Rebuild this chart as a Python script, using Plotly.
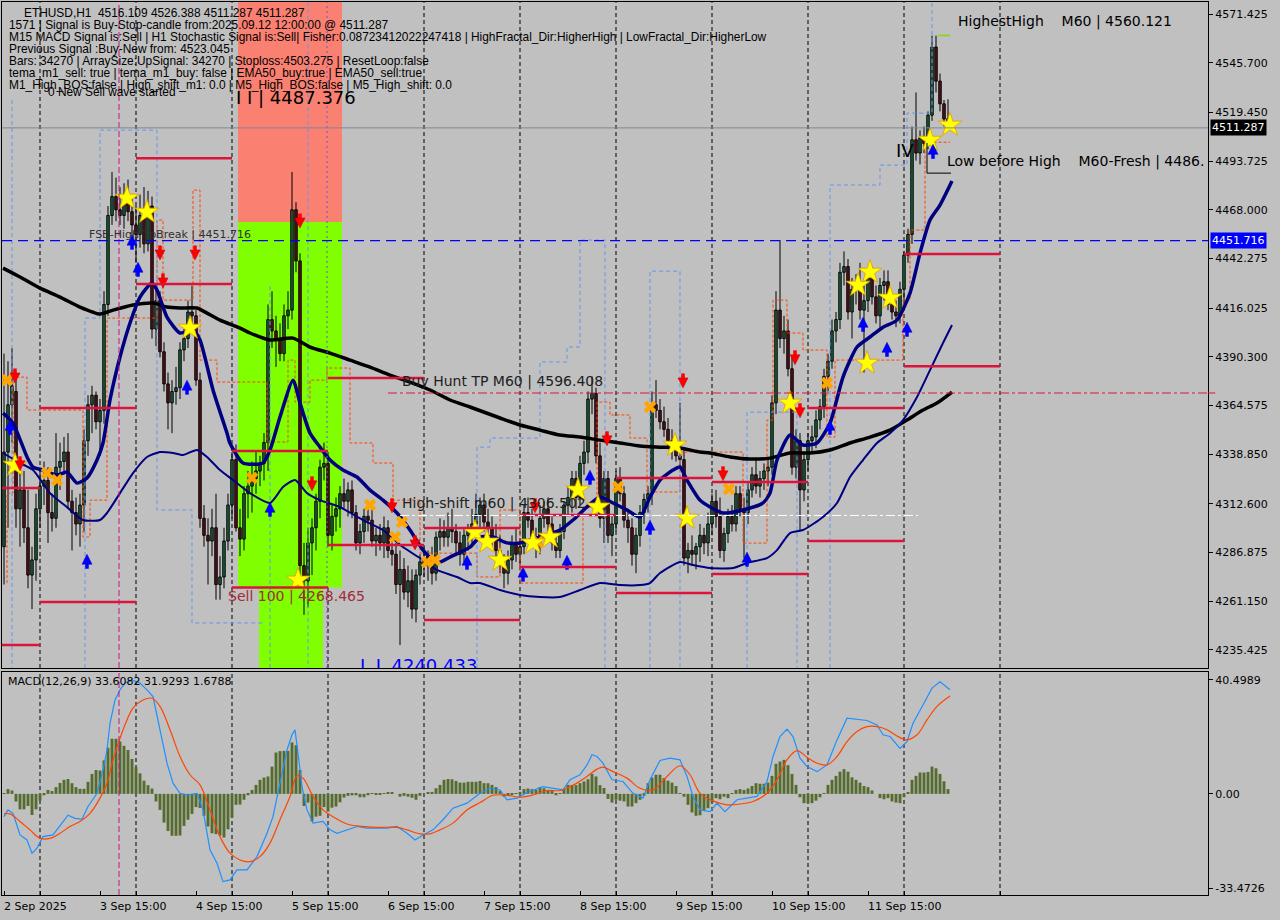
import plotly.graph_objects as go
from plotly.subplots import make_subplots

# ---------------- DATA ----------------
# hourly bars, bar 0 = 2 Sep 2025 15:00
OPEN = [4290,4340,4365,4372,4310,4320,4300,4275,4283,4310,
        4322,4325,4308,4305,4332,4335,4340,4314,4308,4302,
        4312,4346,4365,4370,4356,4362,4418,4465,4475,4468,
        4465,4472,4467,4460,4455,4465,4450,4470,4405,4420,
        4393,4376,4366,4372,4374,4394,4400,4414,4412,4378,
        4305,4296,4293,4300,4270,4274,4293,4312,4336,4300,
        4294,4318,4322,4326,4330,4334,4345,4410,4404,4400,
        4392,4412,4415,4468,4441,4280,4272,4292,4300,4314,
        4332,4334,4296,4306,4310,4318,4314,4320,4308,4292,
        4298,4306,4304,4293,4296,4292,4300,4288,4286,4270,
        4278,4266,4272,4257,4275,4282,4280,4285,4276,4295,
        4298,4295,4300,4298,4292,4286,4296,4298,4302,4307,
        4312,4303,4300,4295,4288,4280,4276,4283,4292,4286,
        4290,4308,4304,4294,4290,4305,4310,4302,4292,4288,
        4298,4312,4316,4326,4316,4334,4340,4368,4371,4338,
        4305,4326,4296,4302,4326,4318,4304,4300,4286,4296,
        4308,4315,4318,4365,4362,4356,4352,4346,4342,4338,
        4336,4284,4288,4286,4290,4296,4292,4302,4314,4306,
        4288,4297,4306,4302,4318,4310,4308,4320,4328,4322,
        4326,4330,4332,4366,4415,4400,4404,4384,4332,4346,
        4320,4336,4346,4348,4357,4364,4380,4388,4404,4410,
        4435,4438,4414,4426,4428,4415,4420,4432,4422,4412,
        4428,4430,4418,4414,4412,4426,4444,4455,4505,4498,
        4506,4503,4518,4554,4536,4524,4516.109]
HIGH = [4392,4388,4395,4380,4335,4330,4320,4290,4318,4330,
        4335,4332,4318,4350,4345,4348,4350,4320,4316,4318,
        4352,4370,4375,4372,4368,4425,4470,4488,4485,4480,
        4482,4484,4475,4470,4476,4480,4478,4475,4428,4425,
        4398,4382,4378,4385,4398,4405,4420,4428,4415,4382,
        4312,4305,4310,4318,4285,4300,4318,4340,4344,4310,
        4322,4330,4335,4340,4338,4350,4418,4425,4412,4408,
        4418,4425,4488,4472,4445,4292,4300,4305,4318,4336,
        4345,4340,4312,4316,4322,4326,4324,4325,4312,4302,
        4310,4314,4310,4300,4302,4306,4304,4295,4292,4288,
        4284,4280,4278,4278,4286,4290,4288,4290,4298,4305,
        4304,4308,4310,4302,4298,4300,4302,4310,4318,4316,
        4318,4310,4306,4302,4296,4286,4288,4296,4300,4294,
        4312,4316,4310,4300,4312,4314,4316,4306,4298,4302,
        4314,4322,4330,4330,4338,4346,4372,4380,4374,4345,
        4330,4330,4306,4330,4332,4322,4310,4305,4300,4312,
        4318,4322,4372,4378,4368,4364,4358,4352,4348,4366,
        4342,4292,4296,4292,4302,4300,4308,4318,4320,4316,
        4300,4310,4312,4322,4322,4316,4324,4332,4336,4330,
        4334,4336,4370,4425,4452,4412,4410,4390,4352,4350,
        4340,4350,4354,4362,4368,4384,4392,4410,4414,4440,
        4446,4442,4432,4434,4440,4428,4436,4438,4428,4432,
        4436,4436,4424,4420,4430,4446,4458,4512,4530,4510,
        4512,4520,4560,4560,4540,4526,4526.388]
LOW = [4270,4300,4345,4300,4290,4292,4268,4257,4272,4300,
       4312,4292,4298,4300,4320,4328,4310,4288,4296,4290,
       4298,4338,4350,4352,4338,4355,4412,4460,4462,4460,
       4458,4462,4452,4440,4448,4445,4446,4400,4396,4390,
       4372,4352,4350,4365,4368,4388,4395,4405,4375,4300,
       4290,4270,4285,4262,4262,4268,4288,4305,4298,4285,
       4288,4305,4308,4318,4322,4325,4330,4395,4385,4388,
       4388,4405,4410,4435,4275,4254,4258,4275,4288,4305,
       4325,4290,4288,4298,4300,4310,4306,4305,4288,4286,
       4292,4298,4290,4285,4288,4284,4284,4280,4265,4238,
       4262,4258,4252,4250,4270,4274,4272,4270,4272,4288,
       4290,4290,4292,4285,4280,4282,4288,4292,4296,4300,
       4298,4296,4290,4284,4276,4268,4270,4278,4282,4280,
       4286,4300,4290,4284,4286,4300,4298,4288,4284,4284,
       4294,4306,4308,4310,4312,4328,4334,4360,4334,4300,
       4292,4292,4285,4298,4314,4300,4292,4280,4276,4290,
       4302,4308,4312,4358,4352,4348,4342,4336,4335,4332,
       4280,4276,4280,4278,4282,4286,4285,4296,4300,4284,
       4282,4292,4298,4298,4306,4284,4302,4316,4318,4316,
       4320,4322,4328,4360,4395,4392,4380,4328,4326,4298,
       4314,4330,4340,4342,4352,4358,4372,4384,4398,4405,
       4428,4410,4400,4418,4410,4382,4414,4418,4408,4404,
       4420,4415,4410,4406,4408,4420,4440,4450,4494,4492,
       4498,4500,4515,4530,4520,4512,4511.287]
CLOSE = [4340,4365,4375,4310,4320,4300,4275,4283,4310,4322,
         4325,4308,4305,4332,4335,4340,4314,4308,4302,4312,
         4346,4365,4370,4356,4362,4418,4465,4475,4468,4465,
         4472,4467,4460,4455,4465,4450,4470,4405,4420,4393,
         4376,4366,4372,4374,4394,4400,4414,4412,4378,4305,
         4296,4293,4300,4270,4274,4293,4312,4336,4300,4294,
         4318,4322,4326,4330,4334,4345,4410,4404,4400,4392,
         4412,4415,4468,4441,4280,4272,4292,4300,4314,4332,
         4334,4296,4306,4310,4318,4314,4320,4308,4292,4298,
         4306,4304,4293,4296,4292,4300,4288,4286,4270,4278,
         4266,4272,4257,4275,4282,4280,4285,4276,4295,4298,
         4295,4300,4298,4292,4286,4296,4298,4302,4307,4312,
         4303,4300,4295,4288,4280,4276,4283,4292,4286,4290,
         4308,4304,4294,4290,4305,4310,4302,4292,4288,4298,
         4312,4316,4326,4316,4334,4340,4368,4371,4338,4305,
         4326,4296,4302,4326,4318,4304,4300,4286,4296,4308,
         4315,4318,4365,4362,4356,4352,4346,4342,4338,4336,
         4284,4288,4286,4290,4296,4292,4302,4314,4306,4288,
         4297,4306,4302,4318,4310,4308,4320,4328,4322,4326,
         4330,4332,4366,4415,4400,4404,4384,4332,4346,4320,
         4336,4346,4348,4357,4364,4380,4388,4404,4410,4435,
         4438,4414,4426,4428,4415,4420,4432,4422,4412,4428,
         4430,4418,4414,4412,4426,4444,4455,4505,4498,4506,
         4503,4518,4554,4536,4524,4516,4511.287]

# MACD histogram, one value per bar
MACD_HIST = [0.3,1.7,1.2,-2.7,-5.5,-5.5,-4.3,-7.5,-5.5,-2.4,
             -0.5,1.4,1.0,2.4,3.9,5.0,5.3,3.8,2.4,1.8,
             1.8,4.3,7.1,8.5,8.3,11.9,16.4,19.6,19.6,18.6,
             17.1,15.6,12.4,9.5,7.3,4.7,3.1,1.9,-2.7,-5.7,
             -10.2,-13.2,-14.9,-14.9,-14.8,-11.4,-9.2,-7.1,-4.7,-5.0,
             -7.8,-11.6,-14.0,-14.3,-14.8,-15.5,-12.6,-8.5,-3.9,-3.8,
             -2.1,-0.5,1.4,3.2,5.0,5.8,6.2,9.7,14.7,15.2,
             15.3,15.3,18.3,17.3,8.5,-4.3,-3.1,-9.8,-8.1,-7.8,
             -4.7,-6.3,-4.9,-4.5,-3.0,-1.3,-0.7,-0.5,-0.5,-1.2,
             -1.2,-0.5,0.2,-0.4,-0.2,0.2,0.5,0.5,0.0,-1.0,
             -0.7,-1.0,-1.4,-2.1,-0.7,0.0,0.6,0.7,2.0,3.2,
             5.0,5.3,5.2,4.6,4.0,4.0,4.3,4.3,4.3,4.6,
             3.8,3.8,3.2,2.4,1.0,-1.0,-0.7,-0.2,0.2,0.7,
             1.7,1.9,1.7,1.4,2.4,2.0,1.4,1.2,-0.5,0.2,
             1.7,3.2,3.2,3.1,3.8,4.4,5.2,7.1,6.2,3.1,
             2.1,-1.8,-3.1,-2.1,-2.4,-2.7,-4.5,-4.5,-3.3,-2.1,
             -0.7,3.8,5.8,6.8,6.8,5.6,4.7,4.0,2.8,0.2,
             -1.0,-3.9,-6.6,-7.8,-7.6,-5.7,-5.1,-3.1,-1.5,-1.9,
             -1.0,-1.5,0.2,1.4,1.7,1.4,1.9,2.8,3.8,3.6,
             3.6,4.0,6.4,10.7,11.5,12.1,10.2,7.1,3.2,-1.2,
             -3.3,-3.3,-3.3,-2.4,-1.2,0.2,3.2,5.0,6.4,7.9,
             8.8,7.9,5.9,5.0,4.0,2.8,2.4,1.2,0.0,-1.5,
             -1.9,-1.5,-2.7,-3.1,-3.3,-1.2,0.5,5.0,6.4,7.6,
             7.6,7.8,9.7,9.1,7.1,4.5,1.7]

# (bar position, value) samples of the MACD main line and the signal line
MACD_MAIN = [(0,-8.1),(1,-5.7),(2.25,-6.9),(4,-14.6),(5.75,-16.4),(7,-21.1),(8.25,-19.3),(9.75,-15.2),
             (12.25,-14.6),(14.75,-9.8),(16,-7.6),(17.75,-8.7),(19.5,-9.0),(21,-4.5),(23.25,0.2),(24.75,8.5),
             (25.75,15.6),(26.5,25.1),(27.75,33.4),(29,37.0),(30.25,39.4),(32,40.5),(34,39.4),(35.75,37.0),
             (37.25,34.6),(39,22.8),(40.75,10.9),(42.25,3.8),(44,0.2),(45.75,-0.4),(48.25,0.2),(49.75,-5.7),
             (51.5,-19.9),(53.25,-24.7),(54.75,-31.2),(56.5,-30.6),(58.25,-27.0),(60.75,-27.0),(63.25,-22.3),
             (65.75,-14.0),(67.25,-8.1),(69,3.8),(70.75,15.6),(72,21.0),(72.75,22.8),(73.5,14.5),(74.5,2.6),
             (75.75,-5.7),(77.25,-10.4),(79.75,-9.8),(81.5,-12.8),(83.25,-14.0),(85.75,-12.8),(88.25,-11.6),
             (90.75,-12.2),(93.25,-12.2),(95.75,-12.2),(98.25,-11.6),(100.75,-14.0),(102.75,-16.4),(104.75,-14.6),
             (107.25,-12.8),(109.75,-9.2),(112.25,-5.1),(115.75,-3.3),(119,0.2),(121.5,2.0),(124,1.4),
             (125.75,-2.1),(128.25,-1.5),(130.75,0.5),(134.75,2.6),(138.25,1.7),(139.75,1.4),(141.5,5.0),
             (144,6.8),(145.75,10.3),(147,13.9),(148.25,13.3),(149.75,10.9),(152,5.0),(154.75,4.4),(157.25,0.2),
             (159.75,-1.5),(161.5,5.0),(164,11.9),(166.5,12.7),(169,12.1),(170.75,6.2),(172.25,-0.9),(174,-5.7),
             (176.5,-6.3),(178.25,-3.3),(180.25,-6.3),(183.25,-2.1),(185.75,-1.5),(188.25,-0.9),(190.75,4.4),
             (192.25,13.3),(194,20.4),(195.75,23.0),(197.25,20.4),(199,12.7),(200.75,9.7),(203.25,7.9),
             (205.75,10.3),(208.25,19.2),(210.75,26.9),(213.25,26.6),(215.75,26.1),(218.25,24.5),(219.75,21.0),
             (221.5,20.4),(224,16.2),(225.75,18.6),(227.25,25.1),(229.75,31.6),(232,37.6),(234,39.9),(236.5,37.0)]
MACD_SIGNAL = [(0,-7.1),(1.5,-7.1),(4,-9.8),(6.5,-12.8),(9,-15.8),(11.5,-15.8),(14,-14.0),(16.5,-11.6),
               (19,-9.8),(21.5,-6.9),(24,-1.5),(25.75,3.8),(27.25,12.1),(29,19.8),(30.75,26.3),(32.25,30.5),
               (34.75,33.4),(37,34.0),(39,31.1),(41.5,22.8),(44,13.3),(46.5,6.8),(49,3.2),(51.5,-5.7),
               (54,-15.2),(56.5,-21.1),(59,-23.5),(61.5,-24.1),(64,-22.3),(66.5,-17.5),(69,-9.2),(71.5,-0.9),
               (73.25,6.4),(74.75,5.6),(77.25,-0.9),(79.75,-5.7),(82.25,-8.1),(85.75,-10.7),(88.25,-11.4),
               (93.25,-11.9),(98.25,-11.9),(100.75,-12.8),(104,-14.2),(106.5,-14.2),(109,-12.8),(112.25,-10.4),
               (115.75,-5.7),(119,-3.1),(122.25,-0.5),(125.75,-0.5),(129,-1.2),(132.25,-0.4),(135.75,1.2),
               (139,1.2),(142.25,3.1),(145.75,6.2),(148.25,8.8),(149.75,9.5),(152.25,7.9),(155.75,5.6),
               (159,2.0),(162.25,1.4),(165.75,6.2),(169,10.0),(171.5,6.8),(174,0.2),(177.25,-2.5),(180.75,-3.9),
               (184,-3.6),(187.25,-2.7),(190.75,0.2),(193.25,5.0),(195.75,12.1),(198.25,15.4),(200.75,13.0),
               (203.25,10.9),(205.75,10.3),(208.25,13.3),(210.75,18.6),(213.25,22.2),(215.75,23.9),(218.25,23.9),
               (220.75,22.8),(223.25,20.6),(225.75,19.2),(228.25,21.0),(230.75,26.3),(233.25,31.1),(236.5,34.8)]

# moving averages: (bar position, price)
MA_FAST = [(-0.25,4360.6),(2.25,4355.3),(5.75,4337.4),(7.25,4332.1),(9.75,4330.5),(13.25,4327.9),(15.75,4329.4),
           (18.25,4323.6),(20.75,4326.3),(23.25,4335.8),(24.75,4344.8),(26.5,4367.5),(29,4390.2),(31.5,4408.2),
           (34,4421.9),(37,4429.3),(38.25,4425.6),(40.75,4411.3),(44,4402.9),(47.25,4404.5),(49,4399.2),
           (52.25,4372.8),(55.75,4350.0),(56.5,4344.6),(59.75,4334.2),(64.75,4334.2),(66.5,4341.1),(69,4358.5),
           (72.25,4378.0),(74,4365.9),(76.5,4350.0),(79,4342.6),(81.5,4335.8),(84.75,4330.5),(88.25,4326.8),
           (91.5,4319.9),(94.75,4314.6),(98.25,4307.8),(101.5,4298.8),(104.75,4288.2),(108.25,4281.4),
           (111.5,4284.5),(116.5,4289.8),(119,4295.1),(122.25,4295.1),(125.75,4292.0),(129,4292.0),(134,4295.1),
           (139,4298.8),(142.25,4304.1),(145.75,4311.0),(149,4316.2),(152.25,4313.1),(155.75,4309.4),
           (159,4305.7),(161.5,4316.2),(164,4325.2),(167.25,4330.5),(169,4332.1),(170.75,4325.2),(174,4314.6),
           (176.5,4311.0),(179.75,4307.8),(184.75,4309.4),(189.75,4313.1),(191.5,4318.4),(193.25,4335.8),
           (196.5,4349.0),(199.75,4343.7),(203.25,4344.8),(206.5,4355.3),(209.75,4379.6),(213.25,4395.5),
           (216.5,4400.8),(219.75,4406.0),(223.25,4409.7),(226.5,4424.0),(229,4445.1),(231.5,4462.6),
           (234,4470.5),(237,4483.2)]
MA_MID = [(-0.25,4339.5),(4,4334.2),(7.25,4330.5),(11.5,4318.3),(15.75,4310.9),(19.75,4304.1),(24,4304.1),
          (25.75,4307.8),(29,4318.3),(32.25,4328.9),(35.75,4337.4),(39,4340.0),(42.25,4339.5),(44.75,4338.4),
          (48.25,4341.1),(50.75,4337.4),(54,4330.5),(57.25,4325.2),(61.5,4318.3),(66.5,4313.1),(69.75,4321.5),
          (72.75,4325.2),(75.75,4318.3),(79,4314.6),(84,4310.9),(89.75,4304.1),(94.75,4298.8),(99.75,4289.8),
          (104.75,4282.9),(108.25,4277.7),(113.25,4274.0),(116.5,4270.8),(119,4270.8),(124,4267.1),
          (129,4264.5),(134,4263.4),(139,4263.4),(144,4267.1),(149,4270.8),(154,4269.7),(159,4269.7),
          (161.5,4270.8),(164,4276.1),(169,4281.9),(172.25,4280.3),(176.5,4278.7),(182.25,4278.7),
          (185.75,4281.4),(190.75,4284.0),(193.25,4288.2),(196.5,4297.2),(199.75,4298.8),(204.75,4305.7),
          (208.25,4313.1),(211.5,4326.8),(214.75,4335.8),(218.25,4344.8),(221.5,4350.0),(224.75,4356.9),
          (228.25,4369.1),(231.5,4383.3),(234.75,4397.6),(237,4407.1)]
MA_SLOW = [(-0.25,4437.2),(4,4432.5),(9,4426.6),(14,4421.9),(19,4416.6),(24,4412.9),(27.25,4415.0),
           (32.25,4417.7),(37.25,4418.7),(40.75,4416.6),(44,4416.1),(48.25,4416.1),(50.75,4413.4),(54,4409.7),
           (59,4405.5),(61.5,4402.9),(66.5,4399.2),(72.25,4400.2),(76.5,4395.5),(81.5,4392.3),(86.5,4388.6),
           (91.5,4384.9),(96.5,4380.7),(101.5,4377.0),(106.5,4372.8),(111.5,4367.5),(116.5,4363.8),
           (124,4358.0),(129,4354.3),(134,4351.6),(139,4349.0),(144,4347.9),(149,4346.3),(154,4344.8),
           (159,4343.2),(164,4342.6),(169,4342.1),(174,4340.0),(176.5,4339.5),(181.5,4337.4),(186.5,4336.3),
           (191.5,4336.8),(196.5,4339.5),(201.5,4339.5),(206.5,4341.1),(211.5,4344.8),(216.5,4347.9),
           (221.5,4351.6),(225.75,4356.9),(229.75,4362.2),(233.25,4365.9),(237,4371.7)]

# orange dashed step line and cornflower dashed channel pieces
ORANGE_STEP = [(0.75,4270.8),(0.75,4318.3),(2.25,4318.3),(2.25,4379.6),(5.75,4379.6),(5.75,4362.2),
               (19.75,4362.2),(19.75,4295.1),(21.5,4295.1),(21.5,4314.6),(25.75,4314.6),(25.75,4410.8),
               (38.25,4410.8),(38.25,4462.6),(39.75,4462.6),(39.75,4420.3),(47.25,4420.3),(47.25,4478.4),
               (49,4478.4),(49,4388.6),(53.25,4388.6),(53.25,4377.0),(65.75,4377.0),(65.75,4345.3),
               (71,4345.3),(71,4388.6),(72.75,4388.6),(72.75,4366.4),(76.5,4366.4),(76.5,4378.0),
               (80.75,4378.0),(80.75,4384.4),(86.5,4384.4),(86.5,4344.8),(92.25,4344.8),(92.25,4334.2),
               (97.25,4334.2),(97.25,4314.6),(104,4314.6),(104,4286.6),(118.25,4286.6),(118.25,4274.0),
               (124,4274.0),(124,4309.4),(129,4309.4),(129,4270.8),(144.75,4270.8),(144.75,4310.9),
               (148.25,4310.9),(148.25,4366.4),(151.5,4366.4),(151.5,4359.6),(156.5,4359.6),(156.5,4347.4),
               (160.75,4347.4),(160.75,4318.9),(169,4318.9),(169,4340.0),(184.75,4340.0),(184.75,4291.9),
               (190.75,4291.9),(190.75,4356.9),(192.25,4356.9),(192.25,4420.3),(195.75,4420.3),
               (195.75,4402.9),(199.75,4402.9),(199.75,4393.9),(205.75,4393.9),(205.75,4347.9),
               (207.75,4347.9),(207.75,4388.6),(224.75,4388.6),(224.75,4420.3),(226.5,4420.3),
               (226.5,4457.3),(230.25,4457.3),(230.25,4503.7),(236.5,4503.7)]
BLUE_STEPS = [
    [(2,4526.0),(2,4225.9)],
    [(20.25,4225.9),(20.25,4410.8),(24,4410.8),(24,4510.1),(38.25,4510.1),(38.25,4309.4),(47,4309.4),
     (47,4249.7),(64.75,4249.7)],
    [(66.5,4225.9),(66.5,4429.3)],
    [(76,4577.7),(76,4225.9)],
    [(118.25,4225.9),(118.25,4342.6),(121.5,4342.6),(121.5,4347.4),(134,4347.4),(134,4387.6),
     (140.75,4387.6),(140.75,4395.5),(144,4395.5),(144,4452.0),(150.25,4452.0),(150.25,4225.9)],
    [(161.5,4225.9),(161.5,4435.6),(169,4435.6),(169,4225.9)],
    [(185.75,4225.9),(185.75,4361.1),(198.25,4361.1),(198.25,4225.9)],
    [(206.5,4225.9),(206.5,4481.1),(219,4481.1),(219,4491.6),(225.75,4491.6),(225.75,4519.1),
     (232,4519.1),(232,4577.7)],
]

# red level segments: (from bar, to bar, price)
RED_LEVELS = [(-1,9,4321.0),(-1,9,4238.1),(9,33,4363.3),(9,33,4260.8),(33,57,4495.3),(33,57,4428.8),
              (57,81,4340.5),(57,81,4268.465),(81,105,4379.1),(81,105,4290.9),(105,129,4299.9),
              (105,129,4251.3),(129,153,4306.7),(129,153,4279.3),(153,177,4326.3),(153,177,4265.5),
              (177,201,4324.2),(177,201,4275.6),(201,225,4363.3),(201,225,4293.0),(225,249,4444.6),
              (225,249,4385.4)]

# signal markers (bar position, price)
STARS = [(2.75,4333.1),(30.75,4474.2),(35.75,4466.8),(46.5,4405.5),(73.5,4272.4),(117.75,4297.7),
         (120.75,4292.5),(124,4282.9),(132.25,4292.0),(136.5,4295.1),(143.5,4320.0),(148.5,4311.0),
         (167.75,4343.7),(170.75,4305.1),(196.5,4365.9),(213.5,4428.2),(216.5,4435.1),(215.75,4387.0),
         (221.5,4421.4),(231.5,4504.8),(236.5,4512.8)]
CROSSES = [(0.75,4378.0),(10.75,4328.9),(13.25,4325.2),(62,4326.3),(91.5,4312.0),(99.5,4303.0),
           (97.75,4295.1),(105.75,4281.9),(107.75,4282.9),(133.5,4292.5),(153.5,4321.5),(161.5,4363.8),
           (181.25,4320.5),(205.75,4376.5)]
UP_ARROWS = [(1.5,4355.3),(20.75,4284.5),(32,4453.1),(33.5,4438.8),(45.75,4376.5),(66.5,4312.0),
             (115.75,4284.0),(129.75,4277.7),(140.75,4284.0),(146.5,4328.9),(161.5,4302.5),(185.75,4285.6),
             (206.5,4355.3),(214.75,4409.7),(220.75,4396.5),(225.75,4407.1),(232.25,4501.1)]
DOWN_ARROWS = [(2.75,4378.0),(4,4331.6),(39,4443.0),(39.75,4428.2),(47.75,4443.0),(74,4459.9),
               (77,4321.0),(97,4309.4),(102.75,4289.8),(132.75,4309.4),(150.75,4344.8),(169.75,4375.4),
               (179.75,4326.3),(197.75,4387.6),(199,4359.6)]

LAST_PRICE = 4511.287
FSB_LEVEL = 4451.716
HUNT_LEVEL = 4371.2
HIGH_SHIFT = 4306.502
SELL_LEVEL = 4268.465
ZONE_TOP = 4461.5
LOW_BEFORE_HIGH = 4487.376
HIGHEST_HIGH = 4560.121

PRICE_TICKS = [4571.425,4545.700,4519.450,4493.725,4468.000,4442.275,4416.025,4390.300,
               4364.575,4338.850,4312.600,4286.875,4261.150,4235.425]
MACD_TICKS = [40.4989, 0.0, -33.4726]
MACD_TICK_TEXT = ["40.4989", "0.00", "-33.4726"]
DATE_LABELS = ["2 Sep 2025","3 Sep 15:00","4 Sep 15:00","5 Sep 15:00","6 Sep 15:00","7 Sep 15:00",
               "8 Sep 15:00","9 Sep 15:00","10 Sep 15:00","11 Sep 15:00"]
DATE_LABEL_BARS = [0,24,48,72,96,120,144,168,192,216]
MIDNIGHT_BARS = [9,33,57,81,105,129,153,177,201,225,249]

INFO_LINES = [
    "ETHUSD,H1  4516.109 4526.388 4511.287 4511.287",
    "1571 | Signal is Buy-Stop-candle from:2025.09.12 12:00:00 @ 4511.287",
    "M15 MACD Signal is:Sell | H1 Stochastic Signal is:Sell| Fisher:0.08723412022247418 | HighFractal_Dir:HigherHigh | LowFractal_Dir:HigherLow",
    "Previous Signal :Buy-New from: 4523.045",
    "Bars: 34270 | ArraySize:UpSignal: 34270 | Stoploss:4503.275 | ResetLoop:false",
    "tema_m1_sell: true | tema_m1_buy: false | EMA50_buy:true | EMA50_sell:true",
    "M1_High_BOS:false | High_shift_m1: 0.0 | M5_High_BOS:false | M5_High_shift: 0.0",
]

# ---------------- FIGURE ----------------
W, H = 1280, 920
ML, MR, MT, MB = 2, 72, 2, 25
PW, PH = W - ML - MR, H - MT - MB


def pxx(x):
    return (x - ML) / PW


def pxy(y):
    return (H - MB - y) / PH


BG = "#C0C0C0"
FONT = "DejaVu Sans"
XR = [-0.5, 301.0]
YR = [4225.9, 4577.8]
MR_RANGE = [-35.96, 43.34]
STEM = 3.2  # arrow stem offset in price units (style)

fig = make_subplots(rows=2, cols=1, shared_xaxes=True)

n = len(CLOSE)
idx = list(range(n))

# wicks
wx, wy = [], []
for i in idx:
    wx += [i, i, None]
    wy += [LOW[i], HIGH[i], None]
fig.add_trace(go.Scatter(x=wx, y=wy, mode="lines", line=dict(color="black", width=1),
                         hoverinfo="skip"), row=1, col=1)

# bodies
body_base = [min(OPEN[i], CLOSE[i]) for i in idx]
body_len = [max(abs(CLOSE[i] - OPEN[i]), 0.6) for i in idx]
body_col = ["#3CC47A" if CLOSE[i] >= OPEN[i] else "#B4243C" for i in idx]
fig.add_trace(go.Bar(x=idx, y=body_len, base=body_base, width=0.62,
                     marker=dict(color=body_col, line=dict(color="black", width=1))), row=1, col=1)

# step lines
fig.add_trace(go.Scatter(x=[p[0] for p in ORANGE_STEP], y=[p[1] for p in ORANGE_STEP], mode="lines",
                         line=dict(color="#FF4500", width=1, dash="3px,2px")), row=1, col=1)
bx, by = [], []
for seg in BLUE_STEPS:
    bx += [p[0] for p in seg] + [None]
    by += [p[1] for p in seg] + [None]
fig.add_trace(go.Scatter(x=bx, y=by, mode="lines",
                         line=dict(color="#6495ED", width=1, dash="4px,3px")), row=1, col=1)

# moving averages
fig.add_trace(go.Scatter(x=[p[0] for p in MA_SLOW], y=[p[1] for p in MA_SLOW], mode="lines",
                         line=dict(color="black", width=3.5, shape="spline", smoothing=0.6)), row=1, col=1)
fig.add_trace(go.Scatter(x=[p[0] for p in MA_MID], y=[p[1] for p in MA_MID], mode="lines",
                         line=dict(color="#000080", width=2, shape="spline", smoothing=0.6)), row=1, col=1)
fig.add_trace(go.Scatter(x=[p[0] for p in MA_FAST], y=[p[1] for p in MA_FAST], mode="lines",
                         line=dict(color="#000080", width=3.5, shape="spline", smoothing=0.6)), row=1, col=1)

# markers
fig.add_trace(go.Scatter(x=[p[0] for p in CROSSES], y=[p[1] for p in CROSSES], mode="markers",
                         marker=dict(symbol="x", size=11, color="#FFA500", line=dict(width=0))), row=1, col=1)
fig.add_trace(go.Scatter(x=[p[0] for p in STARS], y=[p[1] for p in STARS], mode="markers",
                         marker=dict(symbol="star", size=18, color="#FFFF00",
                                     line=dict(color="#E0A000", width=0.8))), row=1, col=1)
# arrows: stem + head
fig.add_trace(go.Scatter(x=[p[0] for p in UP_ARROWS], y=[p[1] - STEM for p in UP_ARROWS], mode="markers",
                         marker=dict(symbol="line-ns", size=8, line=dict(color="#0000FF", width=3.5))),
              row=1, col=1)
fig.add_trace(go.Scatter(x=[p[0] for p in UP_ARROWS], y=[p[1] + 1.5 for p in UP_ARROWS], mode="markers",
                         marker=dict(symbol="arrow-up", size=10, color="#0000FF",
                                     line=dict(color="#0000C0", width=0.5))), row=1, col=1)
fig.add_trace(go.Scatter(x=[p[0] for p in DOWN_ARROWS], y=[p[1] + STEM for p in DOWN_ARROWS],
                         mode="markers",
                         marker=dict(symbol="line-ns", size=8, line=dict(color="#FF0000", width=3.5))),
              row=1, col=1)
fig.add_trace(go.Scatter(x=[p[0] for p in DOWN_ARROWS], y=[p[1] - 1.5 for p in DOWN_ARROWS],
                         mode="markers",
                         marker=dict(symbol="arrow-down", size=10, color="#FF0000",
                                     line=dict(color="#C00000", width=0.5))), row=1, col=1)

# clipped blue label at bottom of price panel (only its upper part shows)
fig.add_trace(go.Scatter(x=[89], y=[4226.3], mode="text", text=["L L 4240.433"],
                         textposition="middle right", cliponaxis=True,
                         textfont=dict(family=FONT, size=18, color="#0000FF")), row=1, col=1)

# MACD panel
fig.add_trace(go.Bar(x=idx, y=MACD_HIST, width=0.72, marker=dict(color="#556B2F", line=dict(width=0))),
              row=2, col=1)
fig.add_trace(go.Scatter(x=[p[0] for p in MACD_MAIN], y=[p[1] for p in MACD_MAIN], mode="lines",
                         line=dict(color="#1E90FF", width=1.2)), row=2, col=1)
fig.add_trace(go.Scatter(x=[p[0] for p in MACD_SIGNAL], y=[p[1] for p in MACD_SIGNAL], mode="lines",
                         line=dict(color="#FF4500", width=1.2, shape="spline")), row=2, col=1)

shapes = []
# zone rectangles
shapes.append(dict(type="rect", xref="x", yref="y", x0=58.5, x1=84.5, y0=ZONE_TOP, y1=4600,
                   fillcolor="#FA8072", line=dict(width=0), layer="below"))
shapes.append(dict(type="rect", xref="x", yref="y", x0=58.5, x1=84.5, y0=SELL_LEVEL, y1=ZONE_TOP,
                   fillcolor="#7FFF00", line=dict(width=0), layer="below"))
shapes.append(dict(type="rect", xref="x", yref="y", x0=63.75, x1=79.75, y0=4200, y1=SELL_LEVEL,
                   fillcolor="#7FFF00", line=dict(width=0), layer="below"))
# day separators
for b in MIDNIGHT_BARS:
    shapes.append(dict(type="line", xref="x", yref="y domain", x0=b, x1=b, y0=0, y1=1,
                       line=dict(color="black", width=1, dash="4px,3px"), layer="below"))
    shapes.append(dict(type="line", xref="x2", yref="y2 domain", x0=b, x1=b, y0=0, y1=1,
                       line=dict(color="black", width=1, dash="4px,3px"), layer="below"))
# special verticals
shapes.append(dict(type="line", xref="x", yref="y domain", x0=28.75, x1=28.75, y0=0, y1=1,
                   line=dict(color="#C71585", width=1, dash="6px,3px")))
shapes.append(dict(type="line", xref="x2", yref="y2 domain", x0=28.75, x1=28.75, y0=0, y1=1,
                   line=dict(color="#C71585", width=1, dash="6px,3px")))
shapes.append(dict(type="line", xref="x", yref="y domain", x0=80.75, x1=80.75, y0=0, y1=1,
                   line=dict(color="#6A5ACD", width=1, dash="2px,3px")))
# red levels
for (a, b, p) in RED_LEVELS:
    shapes.append(dict(type="line", xref="x", yref="y", x0=a, x1=b, y0=p, y1=p,
                       line=dict(color="#DC143C", width=2.5)))
# full-width levels
shapes.append(dict(type="line", xref="x domain", yref="y", x0=0, x1=1, y0=LAST_PRICE, y1=LAST_PRICE,
                   line=dict(color="#7A8796", width=1)))
shapes.append(dict(type="line", xref="x domain", yref="y", x0=0, x1=1, y0=FSB_LEVEL, y1=FSB_LEVEL,
                   line=dict(color="#0000FF", width=1.3, dash="10px,6px")))
shapes.append(dict(type="line", xref="x", yref="y", x0=96, x1=301, y0=HUNT_LEVEL, y1=HUNT_LEVEL,
                   line=dict(color="#DC143C", width=1, dash="dashdot")))
shapes.append(dict(type="line", xref="x", yref="y", x0=99, x1=228.5, y0=HIGH_SHIFT, y1=HIGH_SHIFT,
                   line=dict(color="white", width=1, dash="dashdot")))
# low-before-high bracket & highest-high tick
shapes.append(dict(type="line", xref="x", yref="y", x0=230.75, x1=230.75, y0=4503.3, y1=LOW_BEFORE_HIGH,
                   line=dict(color="black", width=1)))
shapes.append(dict(type="line", xref="x", yref="y", x0=230.75, x1=236.75, y0=LOW_BEFORE_HIGH,
                   y1=LOW_BEFORE_HIGH, line=dict(color="black", width=1)))
shapes.append(dict(type="line", xref="x", yref="y", x0=233.5, x1=236.5, y0=HIGHEST_HIGH, y1=HIGHEST_HIGH,
                   line=dict(color="#9ACD32", width=2)))
# axis tick marks for the levels
shapes.append(dict(type="line", xref="paper", yref="y", x0=1.0, x1=1.006, y0=HUNT_LEVEL, y1=HUNT_LEVEL,
                   line=dict(color="#DC143C", width=1)))

annotations = []
for k, t in enumerate(INFO_LINES):
    annotations.append(dict(text=t, xref="paper", yref="paper", x=pxx(22 if k == 0 else 7),
                            y=pxy(13 + 12 * k), xanchor="left", yanchor="middle", showarrow=False,
                            font=dict(family="Liberation Sans", size=11.9, color="black")))


def label(text, x, y, size=14, color="black", family=FONT):
    annotations.append(dict(text=text, xref="paper", yref="paper", x=pxx(x), y=pxy(y),
                            xanchor="left", yanchor="middle", showarrow=False,
                            font=dict(family=family, size=size, color=color)))


label("0 New Sell wave started", 46, 92, size=11.9, family="Liberation Sans")
label("I I | 4487.376", 234, 97, size=18)
label("HighestHigh    M60 | 4560.121", 956, 22, size=14)
label("Low before High    M60-Fresh | 4486.", 945, 162, size=14)
label("IV", 894, 150, size=18)
label("FSB-High TpBreak | 4451.716", 87, 234, size=11, color="#303030")
label("Buy Hunt TP M60 | 4596.408", 400, 381, size=14, color="#202020")
label("High-shift m60 | 4306.502", 400, 503, size=14, color="#202020")
label("Sell 100 | 4268.465", 226, 596, size=14, color="#A52A3A")
label("MACD(12,26,9) 33.6082 31.9293 1.6788", 6, 681, size=11)

# price boxes on the axis
annotations.append(dict(text=f"{LAST_PRICE:.3f}", xref="paper", yref="y", x=1.0, y=LAST_PRICE,
                        xanchor="left", yanchor="middle", xshift=2, showarrow=False, bgcolor="black",
                        borderpad=1, font=dict(family=FONT, size=11, color="white")))
annotations.append(dict(text=f"{FSB_LEVEL:.3f}", xref="paper", yref="y", x=1.0, y=FSB_LEVEL,
                        xanchor="left", yanchor="middle", xshift=2, showarrow=False, bgcolor="#0000FF",
                        borderpad=1, font=dict(family=FONT, size=11, color="white")))
# date labels
for b, t in zip(DATE_LABEL_BARS, DATE_LABELS):
    annotations.append(dict(text=t, xref="x2", yref="paper", x=b, y=pxy(907), xanchor="left",
                            yanchor="middle", xshift=-2, showarrow=False,
                            font=dict(family=FONT, size=11, color="black")))

axis_common = dict(showgrid=False, zeroline=False, showline=True, linecolor="black", linewidth=1,
                   mirror=True, automargin=False)
fig.update_layout(
    width=W, height=H, margin=dict(l=ML, r=MR, t=MT, b=MB, autoexpand=False),
    paper_bgcolor=BG, plot_bgcolor=BG, showlegend=False, barmode="overlay",
    shapes=shapes, annotations=annotations,
    xaxis=dict(range=XR, showticklabels=False, ticks="", **axis_common),
    xaxis2=dict(range=XR, showticklabels=False, ticks="inside", ticklen=4, tickcolor="black",
                tickvals=sorted(DATE_LABEL_BARS + MIDNIGHT_BARS), **axis_common),
    yaxis=dict(domain=[pxy(668), 1.0], range=YR, side="right", tickvals=PRICE_TICKS,
               ticktext=[f"{v:.3f}" for v in PRICE_TICKS], ticks="outside", ticklen=4,
               tickcolor="black", tickfont=dict(family=FONT, size=11, color="black"), **axis_common),
    yaxis2=dict(domain=[0.0, pxy(672)], range=MR_RANGE, side="right", tickvals=MACD_TICKS,
                ticktext=MACD_TICK_TEXT, ticks="outside", ticklen=4, tickcolor="black",
                tickfont=dict(family=FONT, size=11, color="black"), **axis_common),
)
fig.update_xaxes(rangeslider_visible=False)

fig.write_html("out.html", config={"displayModeBar": False},
               post_script="document.body.style.margin='0';document.body.style.overflow='hidden';")
